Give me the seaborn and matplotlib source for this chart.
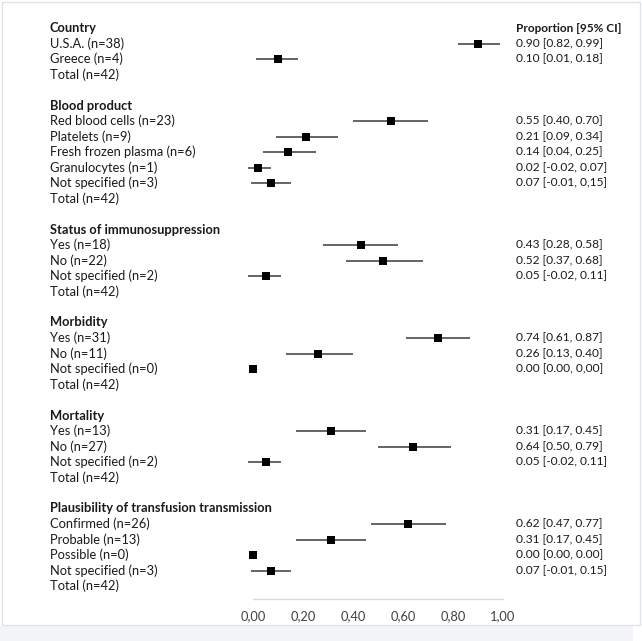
import matplotlib
matplotlib.use("Agg")
import matplotlib.pyplot as plt
import matplotlib.transforms as mtransforms
from matplotlib.patches import Rectangle
import seaborn as sns
import pandas as pd

sns.set_theme(style="white")
plt.rcParams['font.family'] = ['Lato', 'DejaVu Sans']

# sections of the forest plot
sections = ["Country", "Blood product", "Status of immunosuppression",
            "Morbidity", "Mortality", "Plausibility of transfusion transmission"]

labels = [
    ["U.S.A. (n=38)", "Greece (n=4)"],
    ["Red blood cells (n=23)", "Platelets (n=9)", "Fresh frozen plasma (n=6)",
     "Granulocytes (n=1)", "Not specified (n=3)"],
    ["Yes (n=18)", "No (n=22)", "Not specified (n=2)"],
    ["Yes (n=31)", "No (n=11)", "Not specified (n=0)"],
    ["Yes (n=13)", "No (n=27)", "Not specified (n=2)"],
    ["Confirmed (n=26)", "Probable (n=13)", "Possible (n=0)", "Not specified (n=3)"],
]
prop = [
    [0.90, 0.10],
    [0.55, 0.21, 0.14, 0.02, 0.07],
    [0.43, 0.52, 0.05],
    [0.74, 0.26, 0.00],
    [0.31, 0.64, 0.05],
    [0.62, 0.31, 0.00, 0.07],
]
lower = [
    [0.82, 0.01],
    [0.40, 0.09, 0.04, -0.02, -0.01],
    [0.28, 0.37, -0.02],
    [0.61, 0.13, 0.00],
    [0.17, 0.50, -0.02],
    [0.47, 0.17, 0.00, -0.01],
]
upper = [
    [0.99, 0.18],
    [0.70, 0.34, 0.25, 0.07, 0.15],
    [0.58, 0.68, 0.11],
    [0.87, 0.40, 0.00],
    [0.45, 0.79, 0.11],
    [0.77, 0.45, 0.00, 0.15],
]
ci_text = [
    ["0.90 [0.82, 0.99]", "0.10 [0.01, 0.18]"],
    ["0.55 [0.40, 0.70]", "0.21 [0.09, 0.34]", "0.14 [0.04, 0.25]",
     "0.02 [-0.02, 0.07]", "0.07 [-0.01, 0,15]"],
    ["0.43 [0.28, 0.58]", "0.52 [0.37, 0.68]", "0.05 [-0.02, 0.11]"],
    ["0.74 [0.61, 0.87]", "0.26 [0.13, 0.40]", "0.00 [0.00, 0,00]"],
    ["0.31 [0.17, 0.45]", "0.64 [0.50, 0.79]", "0.05 [-0.02, 0.11]"],
    ["0.62 [0.47, 0.77]", "0.31 [0.17, 0.45]", "0.00 [0.00, 0.00]",
     "0.07 [-0.01, 0.15]"],
]
total_label = "Total (n=42)"
xticks = [0, 0.2, 0.4, 0.6, 0.8, 1.0]
xtick_labels = ["0,00", "0,20", "0,40", "0,60", "0,80", "1,00"]

# build row table
rows = []
r = 0
for s, sec in enumerate(sections):
    rows.append(dict(row=r, text=sec, kind="header"))
    r += 1
    for i, lab in enumerate(labels[s]):
        rows.append(dict(row=r, text=lab, kind="item", p=prop[s][i],
                         lo=lower[s][i], hi=upper[s][i], ci=ci_text[s][i]))
        r += 1
    rows.append(dict(row=r, text=total_label, kind="total"))
    r += 2
df = pd.DataFrame(rows)
items = df[df.kind == "item"]
last_row = r - 2

W, H = 642, 641
fig = plt.figure(figsize=(W / 100, H / 100), dpi=100)
fig.patch.set_facecolor("white")

# panel frame and bottom strip
fig.add_artist(Rectangle((0, 0), 633 / W, 15 / H, transform=fig.transFigure,
                         facecolor="#f3f4f6", edgecolor="none"))
fig.add_artist(Rectangle((2 / W, 1 - 625 / H), 638 / W, 623 / H, transform=fig.transFigure,
                         facecolor="none", edgecolor="#dfe3e8", linewidth=1))

row_px = 15.5
top_px = 28 - row_px
axis_px = 599
ax = fig.add_axes([253 / W, 1 - axis_px / H, 250 / W, (axis_px - top_px) / H])
ax.set_xlim(0, 1)
ax.set_ylim(last_row + (axis_px - (28 + last_row * row_px)) / row_px, -1)

ax.hlines(items["row"], items["lo"], items["hi"], color="#3a3a3a", linewidth=1.1,
          clip_on=False, zorder=2)
sns.scatterplot(data=items, x="p", y="row", marker="s", color="black", s=28,
                edgecolor="black", linewidth=0, ax=ax, zorder=3, clip_on=False, legend=False)

for sp in ["top", "left", "right"]:
    ax.spines[sp].set_visible(False)
ax.spines["bottom"].set_color("#d9d9d9")
ax.spines["bottom"].set_linewidth(1)
ax.set_yticks([])
ax.set_xticks(xticks)
ax.set_xticklabels(xtick_labels)
ax.tick_params(axis="x", length=0, pad=8, labelsize=9.3, labelcolor="#404040")
ax.set_xlabel("")
ax.set_ylabel("")
ax.set_facecolor("none")

fs = 9.3
fs_right = 8.6
trans_l = mtransforms.blended_transform_factory(fig.transFigure, ax.transData)
for _, rw in df.iterrows():
    bold = rw["kind"] == "header"
    fig.text(50 / W, rw["row"], rw["text"], transform=trans_l, va="center", ha="left",
             fontsize=fs, fontweight="bold" if bold else "normal", color="#1a1a1a")
fig.text(516 / W, 0, "Proportion [95% CI]", transform=trans_l, va="center", ha="left",
         fontsize=8.5, fontweight="bold", color="#1a1a1a")
for _, rw in items.iterrows():
    fig.text(516 / W, rw["row"], rw["ci"], transform=trans_l, va="center", ha="left",
             fontsize=fs_right, color="#1a1a1a")

fig.savefig("out.png", dpi=100)
